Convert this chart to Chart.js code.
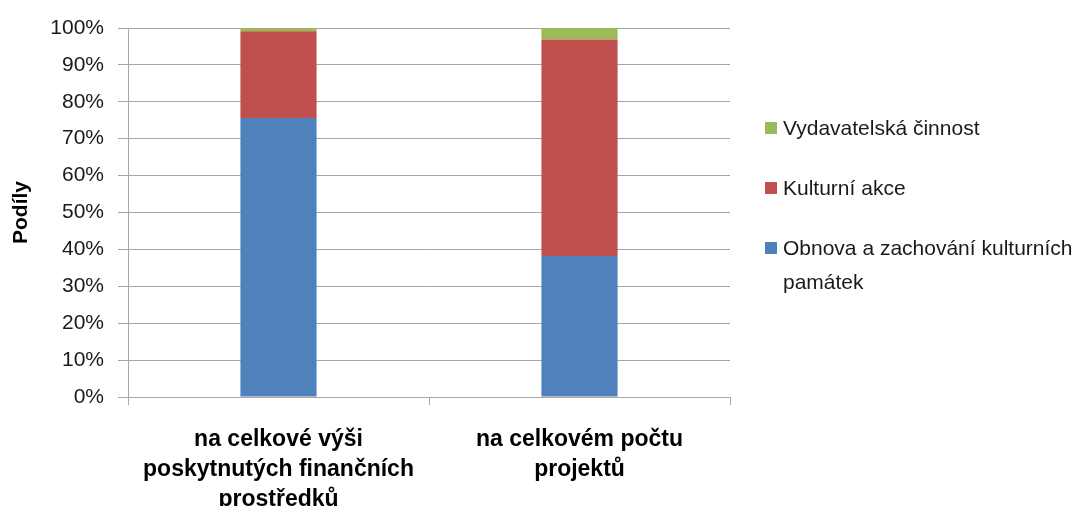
<!DOCTYPE html>
<html>
<head>
<meta charset="utf-8">
<script src="https://cdn.jsdelivr.net/npm/chart.js@4"></script>
<style>
    body { margin: 0; background: #fff; }
    #wrap { position: relative; width: 1091px; height: 506px; }
    #legend { position: absolute; left: 765px; top: 111px; width: 326px;
        font-family: "Liberation Sans", Arial, sans-serif; font-size: 21px; color: #1a1a1a; }
    .item { position: relative; padding-left: 18px; line-height: 34px; margin-bottom: 26px; }
    .box { position: absolute; left: 0; top: 11px; width: 12px; height: 12px; }
</style>
</head>
<body>
<div id="wrap">
    <canvas id="podilyChart" width="1091" height="506"></canvas>
    <div id="legend"></div>
</div>
<script>
const categories = [
    ['na celkové výši', 'poskytnutých finančních', 'prostředků'],
    ['na celkovém počtu', 'projektů']
];
const seriesNames = ['Obnova a zachování kulturních památek', 'Kulturní akce', 'Vydavatelská činnost'];
const obnova = [75.6, 38.2];
const kulturniAkce = [23.5, 58.7];
const vydavatelska = [0.9, 3.1];
const colors = ['#4f81bd', '#c0504d', '#9bbb59'];

const font = '"Liberation Sans", Arial, sans-serif';
const gridColor = '#a6a6a6';

const data = {
    labels: categories,
    datasets: [obnova, kulturniAkce, vydavatelska].map((values, i) => ({
        label: seriesNames[i],
        data: values,
        backgroundColor: colors[i],
        borderWidth: 0,
        barPercentage: 0.253,
        categoryPercentage: 1
    }))
};

const config = {
    type: 'bar',
    data: data,
    options: {
        responsive: false,
        animation: false,
        layout: { padding: { top: 28, right: 361, left: 0, bottom: 0 } },
        scales: {
            x: {
                stacked: true,
                grid: {
                    offset: true,
                    drawOnChartArea: false,
                    color: gridColor,
                    tickLength: 8
                },
                border: { color: gridColor },
                ticks: {
                    color: '#000',
                    padding: 20,
                    maxRotation: 0,
                    font: { family: font, size: 23, weight: 'bold', lineHeight: 1.3 }
                },
                afterFit: scale => { scale.height = 109; }
            },
            y: {
                stacked: true,
                min: 0,
                max: 100,
                ticks: {
                    stepSize: 10,
                    color: '#1a1a1a',
                    padding: 14,
                    font: { family: font, size: 21 },
                    callback: v => v + '%'
                },
                grid: { color: gridColor, tickLength: 10 },
                border: { color: gridColor },
                title: {
                    display: true,
                    text: 'Podíly',
                    color: '#000',
                    padding: { top: 9, bottom: 0 },
                    font: { family: font, size: 21, weight: 'bold' }
                },
                afterFit: scale => { scale.width = 128; }
            }
        },
        plugins: {
            legend: { display: false },
            tooltip: { enabled: false }
        }
    }
};

const podilyChart = new Chart(document.getElementById('podilyChart'), config);

// legend in reverse order, like the stacked bars
const legend = document.getElementById('legend');
data.datasets.slice().reverse().forEach(ds => {
    const item = document.createElement('div');
    item.className = 'item';
    item.innerHTML = '<span class="box" style="background:' + ds.backgroundColor + '"></span>' + ds.label;
    legend.appendChild(item);
});
</script>
</body>
</html>
